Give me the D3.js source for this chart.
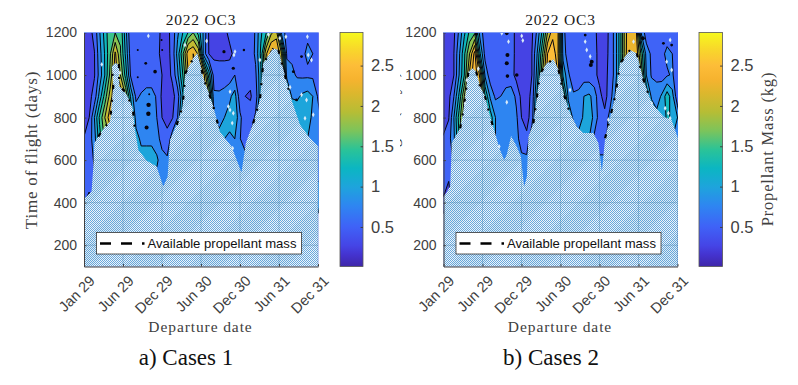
<!DOCTYPE html>
<html><head><meta charset="utf-8">
<script src="https://cdn.jsdelivr.net/npm/d3@7/dist/d3.min.js"></script>
<style>html,body{margin:0;padding:0;background:#fff}svg{display:block}</style>
</head><body><svg id="c" width="798" height="385"></svg>
<script>
const xTickDays=[0,180,360,540,720,900,1080];
const xTickLabels=["Jan 29","Jun 29","Dec 29","Jun 30","Dec 30","Jun 31","Dec 31"];
const yTicks=[200,400,600,800,1000,1200];
const cbTicks=[0.5,1,1.5,2,2.5];
const massLevels=[0.25,0.5,0.75,1,1.25,1.5,1.75,2,2.25,2.5,2.75];
const gridDays=d3.range(46).map(i=>i*24);
const gridTof=[1200,1100,1000,900,800,700,600,500,400];
const colorFrac=[0,.05,.09,.17,.26,.34,.42,.5,.58,.66,.74,.8,.86,.93,1];
const colorHex=["#3e26a8","#4433cf","#4545e6","#3f62f7","#2e86f1","#1ea4dc","#0bb6c2","#2bc397","#7cc45b","#b6bd35","#dcb72d","#f6b32f","#fdbd38","#f8d82a","#f6f91d"];
const massMax=2.91;

const massA=[
[.45,.42,.57,.98,1.35,1.7,1.74,1.7,1.1,.52, .6,.6,.6,.6,.58,.45,.42,.6,.95,1.25, 1.5,1.75,1.4,.95,.48,.42,.42,.45,.55,.6, .6,.6,.5,.8,1.2,1.45,1.95,2.1,.9,.65, .62,.62,.6,.7,.7,.65],
[.45,.42,.49,.9,1.27,1.7,2.3,1.78,1.2,.6, .6,.6,.6,.6,.55,.45,.4,.6,1.1,1.7, 2.4,2.5,2.2,.9,.5,.45,.45,.45,.45,.55, .6,.6,.6,.8,1.3,2.2,2.6,2.6,2.0,.7, .7,.72,.7,.8,.75,.7],
[.45,.42,.48,.85,1.25,1.8,2.4,2.0,1.4,.7, .6,.6,.6,.6,.65,.5,.4,.55,.95,1.5, 2.2,2.5,2.5,2.4,1.4,.62,.6,.6,.62,.75, .55,.5,.55,.7,1.2,2.0,2.5,2.5,2.4,.9, .8,.72,.7,.7,.7,.6],
[.42,.42,.6,1.1,1.6,2.1,2.5,2.5,2.0,1.2, .7,.78,.85,.85,.72,.45,.4,.42,.62,1.2, 2.0,2.4,2.4,2.4,2.0,.8,.8,.85,.95,1.1, .6,.5,.48,.6,1.2,2.0,2.4,2.4,2.2,1.5, .95,.95,1.05,1.1,1.0,.72],
[.42,.5,1.0,1.55,2.0,2.4,2.5,2.5,2.0,1.5, .9,.76,.85,.85,.75,.5,.45,.48,.75,1.5, 2.2,2.3,2.3,2.3,2.0,1.0,.9,1.0,1.1,1.2, .8,.6,.58,.8,1.6,2.2,2.2,2.2,2.0,1.6, 1.4,1.2,1.1,1.1,.95,.85],
[.51,.62,.9,1.4,1.8,2,2,2,1.8,1.5, 1.1,.95,.95,.95,.85,.65,.55,.9,1.5,2, 2,2,2,2,1.9,1.5,1.1,1.0,.95,1.0, .76,.62,.8,1.4,2,2,2,2,1.8,1.5, 1.3,1.2,1.1,1.0,.9,.85],
[.55,.55,.8,1.2,1.5,1.5,1.5,1.5,1.4,1.3, 1.2,1.1,1.1,1.1,1.05,.85,.8,.9,1.2,1.5, 1.5,1.5,1.5,1.5,1.5,1.4,1.2,1.1,1.0,.9, .85,.85,.9,1.2,1.5,1.5,1.5,1.5,1.4,1.3, 1.2,1.1,1,1,.9,.9],
[.55,.55,.7,1,1,1,1,1,1,1, 1,1,1,.9,.9,.85,.8,.9,1,1, 1,1,1,1,1,1,1,1,1,1, .85,.85,1,1,1,1,1,1,1,1, 1,1,1,1,1,1],
[.5,.45,.6,.8,1,1,1,1,1,1, 1,1,1,1,1,1,1,1,1,1, 1,1,1,1,1,1,1,1,1,1, 1,1,1,1,1,1,1,1,1,1, 1,1,1,1,1,1]
];
const massB=[
[.42,.42,.45,.8,1.2,1.55,1.7,.9,.6,.6, .6,.6,.58,.58,.45,.42,.42,.45,.8,1.3, 2.0,2.4,2.3,.85,.55,.55,.6,.6,.6,.55, .42,.4,.55,.85,1.4,2.2,2.45,2.4,1.0,.6, .6,.55,.6,.65,.65,.6],
[.42,.42,.5,.95,1.45,2.0,2.6,1.3,.65,.6, .6,.6,.58,.58,.45,.42,.42,.5,1.0,1.7, 2.5,2.7,2.3,.9,.6,.55,.6,.6,.6,.55, .45,.42,.55,.85,1.4,2.2,2.5,2.5,1.7,.9, .7,.6,.7,.8,.75,.6],
[.42,.42,.5,1.0,1.5,2.3,2.7,2.2,.95,.6, .6,.6,.6,.6,.42,.42,.42,.5,1.1,2.0, 2.6,2.7,2.5,1.2,.8,.55,.6,.62,.6,.55, .45,.45,.55,.85,1.4,2.4,2.6,2.6,2.0,1.0, .72,.7,.62,.72,.78,.6],
[.42,.42,.75,1.3,2.0,2.5,2.6,2.5,1.5,.95, .7,.75,.85,.88,.7,.43,.42,.55,1.3,2.1, 2.5,2.5,2.5,1.8,.95,.8,.82,1.0,1.05,.9, .55,.43,.6,1.0,1.8,2.4,2.5,2.5,2.2,1.5, .95,.85,1.05,1.4,1.1,.55],
[.43,.48,1.0,1.6,2.2,2.5,2.5,2.4,1.8,1.4, 1.0,.85,1.0,.98,.8,.5,.42,.6,1.5,2.2, 2.4,2.4,2.4,2.0,1.2,.95,.85,1.05,1.2,.9, .65,.55,.85,1.4,2.2,2.4,2.4,2.4,2.0,1.6, 1.3,1.1,1.05,1.3,1.2,1.0],
[.52,.65,.95,1.5,2,2,2,2,1.8,1.3, 1.0,.85,.8,.85,.85,.62,.55,1.0,1.5,2, 2,2,2,1.8,1.5,1.2,1.1,1.1,1.0,.7, .66,.66,.9,1.4,2,2,2,2,1.8,1.5, 1.3,1.2,1.1,1.0,1.0,.9],
[.55,.55,.8,1.2,1.5,1.5,1.5,1.5,1.4,1.2, 1.1,.9,.85,.85,.85,.82,.82,.9,1.2,1.5, 1.5,1.5,1.5,1.5,1.4,1.2,1.1,1,1,.9, .78,.78,.9,1.2,1.5,1.5,1.5,1.5,1.4,1.3, 1.2,1.1,1,1,1,.9],
[.55,.5,.7,1,1,1,1,1,1,1, 1,.9,.85,.85,.85,.82,.82,.85,1,1, 1,1,1,1,1,1,1,1,1,1, .8,.8,1,1,1,1,1,1,1,1, 1,1,1,1,1,1],
[.48,.4,.6,.8,1,1,1,1,1,1, 1,1,1,1,1,1,1,1,1,1, 1,1,1,1,1,1,1,1,1,1, 1,1,1,1,1,1,1,1,1,1, 1,1,1,1,1,1]
];
const limitDaysA=[0,20,35,43,48,66,97,120,128,135,129,143,161,163,185,205,225,235,251,289,335,366,386,397,428,455,468,504,523,543,554,574,597,627,681,727,747,781,812,827,873,897,927,958,997,1043,1082];
const limitTofA=[418,437,453,570,680,711,758,781,867,946,1040,1055,1052,946,927,891,844,742,648,598,570,476,523,695,766,852,1008,1079,1102,1024,977,922,852,734,664,542,680,774,883,1055,1126,1118,1000,883,766,703,664];
const limitDaysB=[0,11,31,38,77,92,100,115,135,151,169,192,215,238,258,280,292,312,338,357,372,385,392,415,446,477,508,531,554,584,615,646,692,715,731,746,792,815,861,892,923,961,1015,1053,1082];
const limitTofB=[429,442,479,680,750,836,899,1016,1032,1016,946,899,805,727,656,601,625,714,664,617,476,523,711,774,1008,1055,1074,1024,914,821,758,727,727,680,547,703,899,1055,1118,1102,977,867,805,789,703];
const availSpansA=[[66,135],[161,235],[428,504],[543,627],[781,873],[897,958]];
const availSpansB=[[77,135],[151,238],[415,508],[531,584],[746,861],[892,961]];
const speckDayA=[297,82,166,466,566,697,692,851,904,932,1031,689,686,951,666,674,812,1035,1050,1004,1027,1058,1020,674,684];
const speckTofA=[1184,1050,1011,1141,1160,1110,1094,1191,1173,1180,1180,820,656,943,852,836,1071,1094,1071,907,883,813,797,922,774];
const speckDayB=[269,300,361,366,108,100,292,257,161,661,654,584,761,877,1046,1030,1053,1023,1038,1046,961,677];
const speckTofB=[1196,1157,1184,1162,976,867,872,664,1030,1118,1157,930,790,1157,1165,1063,1024,844,820,797,867,1087];
const spotDayA=[301,298,297,289,248,248,285,328,358,361,689,646,738,966,1004,981];
const spotTofA=[910,860,818,753,1118,990,1055,1016,1165,1118,1032,1110,1118,1016,1087,883];
const spotSizeA=[1,2.2,2.2,2,1,1,1.4,1.8,1,1,1.6,1.6,1.2,1.4,1.4,1.4];
const spotDayB=[292,295,295,338,151,292,654,684,680,920,1015,1053];
const spotTofB=[1055,1094,995,1000,1193,1196,1188,1063,1047,1173,1149,1141];
const spotSizeB=[2,2,1.8,1.8,1.8,1.8,1.4,2,2,2,1.4,1.4];

const svg=d3.select("#c");
const SERIF="'Liberation Serif','Times New Roman',serif", SANS="'Liberation Sans',Arial,sans-serif";
const colorAt=d3.scaleLinear().domain(colorFrac.map(f=>f*massMax)).range(colorHex).clamp(true);
const defs=svg.append("defs");
const pat=defs.append("pattern").attr("id","dither").attr("patternUnits","userSpaceOnUse").attr("width",2).attr("height",2);
pat.append("rect").attr("width",2).attr("height",2).attr("fill","#eef4fa");
pat.append("rect").attr("width",1).attr("height",1).attr("fill","#68a8dc").attr("shape-rendering","crispEdges");
pat.append("rect").attr("x",1).attr("y",1).attr("width",1).attr("height",1).attr("fill","#68a8dc").attr("shape-rendering","crispEdges");
const band=defs.append("pattern").attr("id","moire").attr("patternUnits","userSpaceOnUse").attr("width",46).attr("height",46).attr("patternTransform","rotate(-45)");
band.append("rect").attr("width",46).attr("height",23).attr("fill","#3f85c0").attr("opacity",.08);
const grad=defs.append("linearGradient").attr("id","cbGrad").attr("x1",0).attr("x2",0).attr("y1",1).attr("y2",0);
colorFrac.forEach((f,i)=>grad.append("stop").attr("offset",f).attr("stop-color",colorHex[i]));

function panel(id,left,right,cbLeft,cbRight,mass,limDays,limTof,spans,spDay,spTof,dotDay,dotTof,dotSize,legLeft,caption,capX,yLabel){
  const top=32.5,bottom=266.5;
  const x=d3.scaleLinear().domain([0,1080]).range([left,right]);
  const y=d3.scaleLinear().domain([100,1200]).range([bottom,top]);
  const g=svg.append("g");
  const cid="clip"+id;
  defs.append("clipPath").attr("id",cid).append("rect").attr("x",left).attr("y",top).attr("width",right-left+.5).attr("height",bottom-top);
  const plot=g.append("g").attr("clip-path",`url(#${cid})`);
  plot.append("rect").attr("x",left).attr("y",top).attr("width",right-left+.5).attr("height",bottom-top).attr("fill",colorAt(.25));
  const vals=mass.flat();
  const contours=d3.contours().size([gridDays.length,gridTof.length]).smooth(true).thresholds(massLevels)(vals);
  const dStep=gridDays[1]-gridDays[0], tStep=gridTof[0]-gridTof[1];
  const path=d3.geoPath(d3.geoTransform({point(px,py){this.stream.point(x((px-.5)*dStep),y(gridTof[0]-(py-.5)*tStep));}}));
  plot.selectAll("path.b").data(contours).join("path").attr("class","b").attr("d",path)
    .attr("fill",d=>colorAt(d.value)).attr("stroke","#05050f").attr("stroke-width",1);
  plot.selectAll("circle.s").data(dotDay).join("circle").attr("class","s")
    .attr("cx",d=>x(d)).attr("cy",(d,i)=>y(dotTof[i])).attr("r",(d,i)=>dotSize[i]).attr("fill","#05050f");
  const pts=limDays.map((d,i)=>[d,limTof[i]]);
  const area=d3.area().x(d=>x(d[0])).y0(bottom+2).y1(d=>y(d[1]));
  const maskD=area(pts);
  plot.append("path").attr("d",maskD).attr("fill","url(#dither)");
  plot.append("path").attr("d",maskD).attr("fill","url(#moire)");
  const mid="mask"+id;
  defs.append("clipPath").attr("id",mid).append("path").attr("d",maskD);
  const gridG=plot.append("g").attr("clip-path",`url(#${mid})`);
  gridG.selectAll("line.v").data(xTickDays).join("line").attr("class","v").attr("x1",d=>x(d)).attr("x2",d=>x(d)).attr("y1",top).attr("y2",bottom).attr("stroke","#2f6f9f").attr("stroke-opacity",.3);
  gridG.selectAll("line.h").data(yTicks).join("line").attr("class","h").attr("x1",left).attr("x2",right).attr("y1",d=>y(d)).attr("y2",d=>y(d)).attr("stroke","#2f6f9f").attr("stroke-opacity",.3);
  const line=d3.line().x(d=>x(d[0])).y(d=>y(d[1]));
  plot.selectAll("path.av").data(spans).join("path").attr("class","av")
    .attr("d",s=>line(pts.filter(p=>p[0]>=s[0]&&p[0]<=s[1])))
    .attr("fill","none").attr("stroke","#000").attr("stroke-width",2.2).attr("stroke-dasharray","4 9 2 11");
  plot.selectAll("path.sp").data(spDay).join("path").attr("class","sp")
    .attr("d",d3.symbol(d3.symbolDiamond,7))
    .attr("transform",(d,i)=>`translate(${x(d)},${y(spTof[i])})`).attr("fill","#d8eaf8");
  const ax=d3.axisBottom(x).tickValues(xTickDays).tickFormat((d,i)=>xTickLabels[i]).tickSizeInner(-2.4).tickSizeOuter(0);
  const xa=g.append("g").attr("transform",`translate(0,${bottom})`).call(ax);
  xa.select(".domain").attr("stroke","#404040");
  xa.selectAll(".tick line").attr("stroke","#404040");
  xa.selectAll(".tick text").attr("font-family",SANS).attr("font-size",14.6).attr("fill","#404040")
    .attr("text-anchor","end").attr("transform","translate(8,12) rotate(-45)").attr("dy",".32em").attr("y",0).attr("x",0);
  const ay=d3.axisLeft(y).tickValues(yTicks).tickFormat(d3.format("d")).tickSizeInner(-2.4).tickSizeOuter(0).tickPadding(7);
  const ya=g.append("g").attr("transform",`translate(${left},0)`).call(ay);
  ya.select(".domain").attr("stroke","#404040");
  ya.selectAll(".tick line").attr("stroke","#404040");
  ya.selectAll(".tick text").attr("font-family",SANS).attr("font-size",14).attr("fill","#404040");
  g.append("line").attr("x1",left).attr("x2",right).attr("y1",top).attr("y2",top).attr("stroke","#7f9cf5").attr("stroke-width",1);
  g.append("text").attr("x",(left+right)/2).attr("y",24.5).attr("text-anchor","middle").attr("font-family",SERIF).attr("font-size",15.5).attr("fill","#1a1a1a").attr("letter-spacing",.8).text("2022 OC3");
  g.append("text").attr("x",(left+right)/2-.5).attr("y",332).attr("text-anchor","middle").attr("font-family",SERIF).attr("font-size",15.5).attr("fill","#404040").attr("letter-spacing",.9).text("Departure date");
  const leg=g.append("g");
  leg.append("rect").attr("x",legLeft).attr("y",232.5).attr("width",205).attr("height",21.5).attr("fill","#fff").attr("stroke","#333").attr("stroke-width",.8);
  leg.append("line").attr("x1",legLeft+3.5).attr("x2",legLeft+48).attr("y1",243.5).attr("y2",243.5).attr("stroke","#000").attr("stroke-width",2.6).attr("stroke-dasharray","11 10");
  leg.append("text").attr("x",legLeft+51).attr("y",248).attr("font-family",SANS).attr("font-size",13.1).attr("fill","#111").text("Available propellant mass");
  const c=d3.scaleLinear().domain([0.01,massMax]).range([bottom,top]);
  g.append("rect").attr("x",cbLeft).attr("y",top).attr("width",cbRight-cbLeft).attr("height",bottom-top).attr("fill","url(#cbGrad)").attr("stroke","#555").attr("stroke-width",.8);
  const cbAxis=d3.axisRight(c).tickValues(cbTicks).tickFormat(d3.format("~g")).tickSizeInner(-2.4).tickSizeOuter(0).tickPadding(8);
  const cb=g.append("g").attr("transform",`translate(${cbRight},0)`).call(cbAxis);
  cb.select(".domain").remove();
  cb.selectAll(".tick line").attr("stroke","#404040");
  cb.selectAll(".tick text").attr("font-family",SANS).attr("font-size",16.5).attr("fill","#404040");
  g.append("text").attr("x",capX).attr("y",365).attr("text-anchor","middle").attr("font-family",SERIF).attr("font-size",23).attr("fill","#111").text(caption);
  const yl=g.append("text").attr("text-anchor","middle").attr("font-family",SERIF).attr("font-size",17).attr("fill","#404040").attr("letter-spacing",.8).text("Time of flight (days)");
  if(yLabel) yl.attr("transform","translate(37,150) rotate(-90)");
  else {
    defs.append("clipPath").attr("id","ylCut").append("rect").attr("x",400).attr("y",60).attr("width",6).attr("height",180);
    yl.attr("transform","translate(397.5,150) rotate(-90)");
    const w=g.append("g").attr("clip-path","url(#ylCut)"); w.node().appendChild(yl.node());
  }
}
panel("A",84,318,340,363,massA,limitDaysA,limitTofA,availSpansA,speckDayA,speckTofA,spotDayA,spotTofA,spotSizeA,96.5,"a) Cases 1",186,true);
panel("B",443.5,677.5,699,722.5,massB,limitDaysB,limitTofB,availSpansB,speckDayB,speckTofB,spotDayB,spotTofB,spotSizeB,456,"b) Cases 2",551,false);
svg.append("text").attr("transform","translate(773,149) rotate(-90)").attr("text-anchor","middle").attr("font-family",SERIF).attr("font-size",16.5).attr("fill","#404040").attr("letter-spacing",.8).text("Propellant Mass (kg)");
</script></body></html>
